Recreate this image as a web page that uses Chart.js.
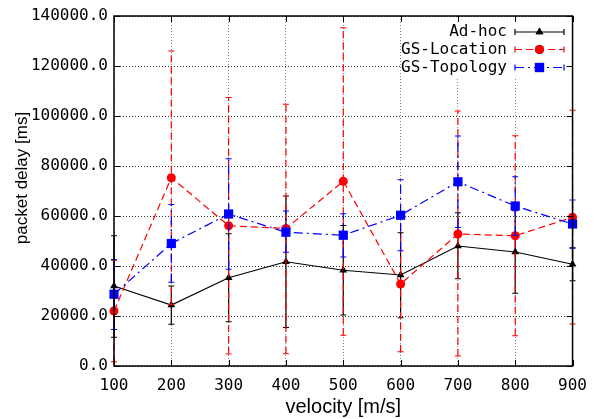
<!DOCTYPE html>
<html>
<head>
<meta charset="utf-8">
<script src="https://cdn.jsdelivr.net/npm/chart.js@4.4.0/dist/chart.umd.min.js"></script>
<style>
html, body { margin: 0; padding: 0; background: #fff; }
#wrap { width: 597px; height: 419px; position: relative; }
</style>
</head>
<body>
<div id="wrap"><canvas id="chart"></canvas></div>
<script>
// velocity [m/s] on x, packet delay [ms] on y
const velocities = [100, 200, 300, 400, 500, 600, 700, 800, 900];
const yTicks = [0, 20000, 40000, 60000, 80000, 100000, 120000, 140000];

// Ad-hoc
const adhoc     = [32000, 24400, 35300, 41700, 38300, 36400, 48000, 45600, 40700];
const adhocLow  = [11500, 16700, 17700, 15400, 20400, 19300, 34900, 29100, 34100];
const adhocHigh = [52100, 32000, 52900, 68000, 56200, 53300, 61300, 62100, 47300];

// GS-Location
const location_  = [22000, 75300, 56100, 55000, 73900, 32800, 52800, 52100, 59500];
const locLow     = [1700, 24600, 4800, 4900, 12300, 5700, 4000, 12100, 16800];
const locHigh    = [42300, 126000, 107400, 104700, 135300, 59900, 102000, 92100, 102300];

// GS-Topology
const topology = [28700, 49000, 60800, 53500, 52300, 60300, 73700, 64000, 56800];
const topoLow  = [14600, 33500, 38700, 45500, 43600, 46100, 55400, 52300, 47100];
const topoHigh = [42600, 64600, 82900, 62000, 60900, 74500, 92000, 75700, 66400];

const monoFont = "'DejaVu Sans Mono', monospace";
const sansFont = "'Liberation Sans', Arial, sans-serif";

function toPoints(vals) {
    return velocities.map((v, i) => ({ x: v, y: vals[i] }));
}

// error bars drawn right before each dataset, same style as its line
const errorBars = {
    id: 'errorBars',
    beforeDatasetDraw(chart, args) {
        const ds = chart.data.datasets[args.index];
        if (!ds.low) return;
        const ctx = chart.ctx;
        const xs = chart.scales.x, ys = chart.scales.y;
        ctx.save();
        ctx.strokeStyle = ds.borderColor;
        ctx.lineWidth = ds.borderWidth;
        for (let i = 0; i < ds.low.length; i++) {
            const px = xs.getPixelForValue(velocities[i]);
            const y1 = ys.getPixelForValue(ds.low[i]);
            const y2 = ys.getPixelForValue(ds.high[i]);
            ctx.setLineDash(ds.borderDash || []);
            ctx.beginPath();
            ctx.moveTo(px, y1);
            ctx.lineTo(px, y2);
            ctx.stroke();
            ctx.setLineDash([]);
            ctx.beginPath();
            ctx.moveTo(px - 3, y1); ctx.lineTo(px + 3, y1);
            ctx.moveTo(px - 3, y2); ctx.lineTo(px + 3, y2);
            ctx.stroke();
        }
        ctx.restore();
    }
};

// key in the top right corner, gnuplot style
const keyBox = {
    id: 'keyBox',
    beforeDatasetsDraw(chart) {
        const ctx = chart.ctx;
        const a = chart.chartArea;
        ctx.save();
        ctx.fillStyle = '#fff';
        ctx.fillRect(406, a.top + 1, a.right - 407, 60);
        ctx.restore();
    },
    afterDatasetsDraw(chart) {
        const ctx = chart.ctx;
        const rows = [32, 49.5, 67.5];
        ctx.save();
        chart.data.datasets.forEach((ds, i) => {
            const y = rows[i];
            ctx.font = '16px ' + monoFont;
            ctx.fillStyle = '#000';
            ctx.textAlign = 'right';
            ctx.textBaseline = 'middle';
            ctx.fillText(ds.label, 507, y);

            ctx.strokeStyle = ds.borderColor;
            ctx.lineWidth = ds.borderWidth;
            ctx.setLineDash(ds.borderDash || []);
            ctx.beginPath();
            ctx.moveTo(515, y); ctx.lineTo(564, y);
            ctx.stroke();
            ctx.setLineDash([]);
            ctx.beginPath();
            ctx.moveTo(515, y - 3); ctx.lineTo(515, y + 3);
            ctx.moveTo(564, y - 3); ctx.lineTo(564, y + 3);
            ctx.stroke();
            Chart.helpers.drawPoint(ctx, {
                pointStyle: ds.pointStyle, radius: ds.pointRadius, borderWidth: 0
            }, 539.5, y);
            ctx.fillStyle = ds.backgroundColor;
            ctx.fill();
        });
        ctx.restore();
    }
};

// frame, mirrored inward ticks and axis titles
const frame = {
    id: 'frame',
    afterDraw(chart) {
        const ctx = chart.ctx;
        const a = chart.chartArea;
        const xs = chart.scales.x, ys = chart.scales.y;
        ctx.save();
        ctx.strokeStyle = '#000';
        ctx.lineWidth = 1;
        ctx.beginPath();
        velocities.forEach(v => {
            const px = Math.round(xs.getPixelForValue(v)) + 0.5;
            ctx.moveTo(px, a.bottom); ctx.lineTo(px, a.bottom - 6);
            ctx.moveTo(px, a.top); ctx.lineTo(px, a.top + 6);
        });
        yTicks.forEach(t => {
            const py = Math.round(ys.getPixelForValue(t)) + 0.5;
            ctx.moveTo(a.left, py); ctx.lineTo(a.left + 6, py);
            ctx.moveTo(a.right, py); ctx.lineTo(a.right - 6, py);
        });
        ctx.stroke();
        ctx.lineWidth = 1.5;
        ctx.strokeRect(a.left, a.top, a.right - a.left, a.bottom - a.top);

        ctx.fillStyle = '#000';
        ctx.textAlign = 'center';
        ctx.textBaseline = 'middle';
        ctx.font = '20px ' + sansFont;
        ctx.fillText('velocity [m/s]', (a.left + a.right) / 2, 407);
        ctx.translate(22, 178);
        ctx.rotate(-Math.PI / 2);
        ctx.font = '17px ' + sansFont;
        ctx.fillText('packet delay [ms]', 0, 0);
        ctx.restore();
    }
};

new Chart(document.getElementById('chart'), {
    type: 'line',
    data: {
        datasets: [
            {
                label: 'Ad-hoc', data: toPoints(adhoc), low: adhocLow, high: adhocHigh,
                borderColor: '#000', backgroundColor: '#000', borderWidth: 1.2,
                pointStyle: 'triangle', pointRadius: 4.5, pointBorderWidth: 0, order: 3
            },
            {
                label: 'GS-Location', data: toPoints(location_), low: locLow, high: locHigh,
                borderColor: '#ff0000', backgroundColor: '#ff0000', borderWidth: 1.2, borderDash: [7, 4],
                pointStyle: 'circle', pointRadius: 4.5, pointBorderWidth: 0, order: 2
            },
            {
                label: 'GS-Topology', data: toPoints(topology), low: topoLow, high: topoHigh,
                borderColor: '#0000ff', backgroundColor: '#0000ff', borderWidth: 1.2, borderDash: [9, 4, 2, 4],
                pointStyle: 'rect', pointRadius: 6.5, pointBorderWidth: 0, order: 1
            }
        ]
    },
    options: {
        responsive: true,
        maintainAspectRatio: false,
        animation: false,
        layout: { padding: { left: 0, right: 18, top: 16, bottom: 0 } },
        elements: { line: { tension: 0, fill: false } },
        datasets: { line: { clip: false } },
        plugins: { legend: { display: false }, tooltip: { enabled: false } },
        scales: {
            x: {
                type: 'linear', min: 100, max: 900,
                afterBuildTicks: s => { s.ticks = velocities.map(v => ({ value: v })); },
                afterFit: s => { s.height = 53; },
                grid: { color: '#888', drawTicks: false },
                border: { display: false, dash: [1, 2] },
                ticks: { font: { family: monoFont, size: 16 }, color: '#000', padding: 10, maxRotation: 0 }
            },
            y: {
                min: 0, max: 140000,
                afterBuildTicks: s => { s.ticks = yTicks.map(v => ({ value: v })); },
                afterFit: s => { s.width = 114; },
                grid: { color: '#333', drawTicks: false },
                border: { display: false, dash: [1, 2] },
                ticks: { font: { family: monoFont, size: 16 }, color: '#000', padding: 6,
                         callback: v => v.toFixed(1) }
            }
        }
    },
    plugins: [errorBars, keyBox, frame]
});
</script>
</body>
</html>
